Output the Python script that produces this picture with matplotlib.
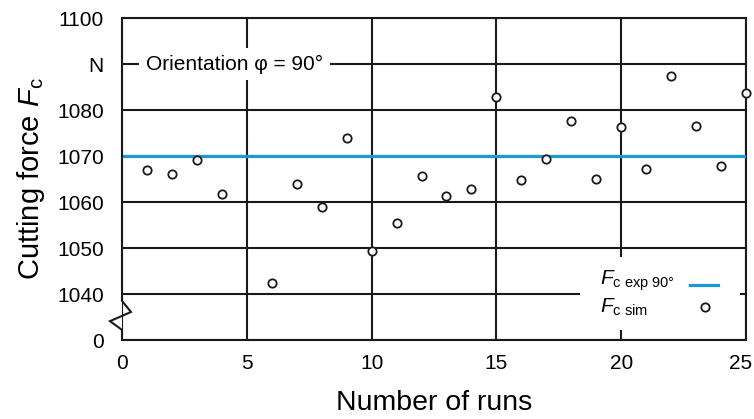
import matplotlib
matplotlib.use('Agg')
import matplotlib.pyplot as plt
import matplotlib.transforms as mtransforms
from matplotlib.patches import Rectangle

plt.rcParams['font.family'] = ['Liberation Sans', 'DejaVu Sans']
plt.rcParams['mathtext.fontset'] = 'custom'
plt.rcParams['mathtext.rm'] = 'Liberation Sans'
plt.rcParams['mathtext.it'] = 'Liberation Sans:italic'

# simulated cutting force per run (run 5 missing)
runs = [1, 2, 3, 4, 6, 7, 8, 9, 10, 11, 12, 13, 14, 15, 16, 17, 18, 19, 20, 21, 22, 23, 24, 25]
fc_sim = [1067.0, 1066.1, 1069.1, 1061.7, 1042.5, 1064.0, 1059.0, 1074.0, 1049.4, 1055.4,
          1065.6, 1061.3, 1062.8, 1082.8, 1064.7, 1069.3, 1077.6, 1065.1, 1076.4, 1067.2,
          1087.5, 1076.5, 1067.8, 1083.6]
fc_exp = 1070.0

# broken axis: the "0" tick sits one step below 1040
ytick_pos = [1030, 1040, 1050, 1060, 1070, 1080, 1090, 1100]
ytick_labels = ['0', '1040', '1050', '1060', '1070', '1080', 'N', '1100']
xticks = [0, 5, 10, 15, 20, 25]

fig = plt.figure(figsize=(7.54, 4.19), dpi=100)
ax = fig.add_axes([0.1618, 0.1885, 0.8276, 0.7685])

lw = 1.5
ink = '#1a1a1a'
blue = '#1b9ad6'
ax.set_xlim(0, 25)
ax.set_ylim(1030, 1100)
ax.set_xticks(xticks)
ax.set_yticks(ytick_pos)
ax.set_yticklabels(ytick_labels)
ax.tick_params(length=0, labelsize=15)
ax.tick_params(axis='y', pad=13)
ax.tick_params(axis='x', pad=10)
ax.grid(True, color=ink, linewidth=lw)
ax.set_axisbelow(True)
for name, sp in ax.spines.items():
    sp.set_linewidth(lw)
    sp.set_color(ink)
ax.spines['left'].set_visible(False)

# keep the last x label inside the figure
last = ax.get_xticklabels()[-1]
last.set_transform(last.get_transform() + mtransforms.ScaledTranslation(-4 / 72, 0, fig.dpi_scale_trans))

# left spine with the break symbol
trans = mtransforms.blended_transform_factory(ax.transAxes, ax.transData)
bx = [0, 0, 0.0144, -0.0192, 0, 0]
by = [1100, 1038.5, 1036.1, 1034.1, 1032.2, 1030]
ax.plot(bx, by, color=ink, lw=lw, transform=trans, clip_on=False,
        solid_joinstyle='miter', zorder=5)

ax.axhline(fc_exp, color=blue, lw=2.3, zorder=3)
ax.plot(runs, fc_sim, 'o', ms=6, mfc='white', mec=ink, mew=1.3, zorder=4, clip_on=False)

ax.text(0.96, 1090, 'Orientation φ = 90°', fontsize=15, va='center', ha='left',
        bbox=dict(facecolor='white', edgecolor='none', pad=5), zorder=3)

# key: labels on the left, symbols on the right
ax.add_patch(Rectangle((0.734, 0.031), 0.2564, 0.2267, transform=ax.transAxes,
                       facecolor='white', edgecolor='none', zorder=6))
ax.text(0.766, 0.1708, r'$F_{\mathrm{c\ exp\ 90°}}$', transform=ax.transAxes,
        fontsize=15, va='baseline', ha='left', zorder=7)
ax.text(0.766, 0.0839, r'$F_{\mathrm{c\ sim}}$', transform=ax.transAxes,
        fontsize=15, va='baseline', ha='left', zorder=7)
ax.plot([0.910, 0.955], [0.1708, 0.1708], color=blue, lw=2.3,
        transform=ax.transAxes, zorder=7)
ax.plot([0.934], [0.1025], 'o', ms=6, mfc='white', mec=ink, mew=1.3,
        transform=ax.transAxes, zorder=7)

ax.set_xlabel('Number of runs', fontsize=20.5, labelpad=12)
ax.set_ylabel(r'Cutting force $F_\mathrm{c}$', fontsize=21, labelpad=7)

fig.savefig('out.png', dpi=100)
